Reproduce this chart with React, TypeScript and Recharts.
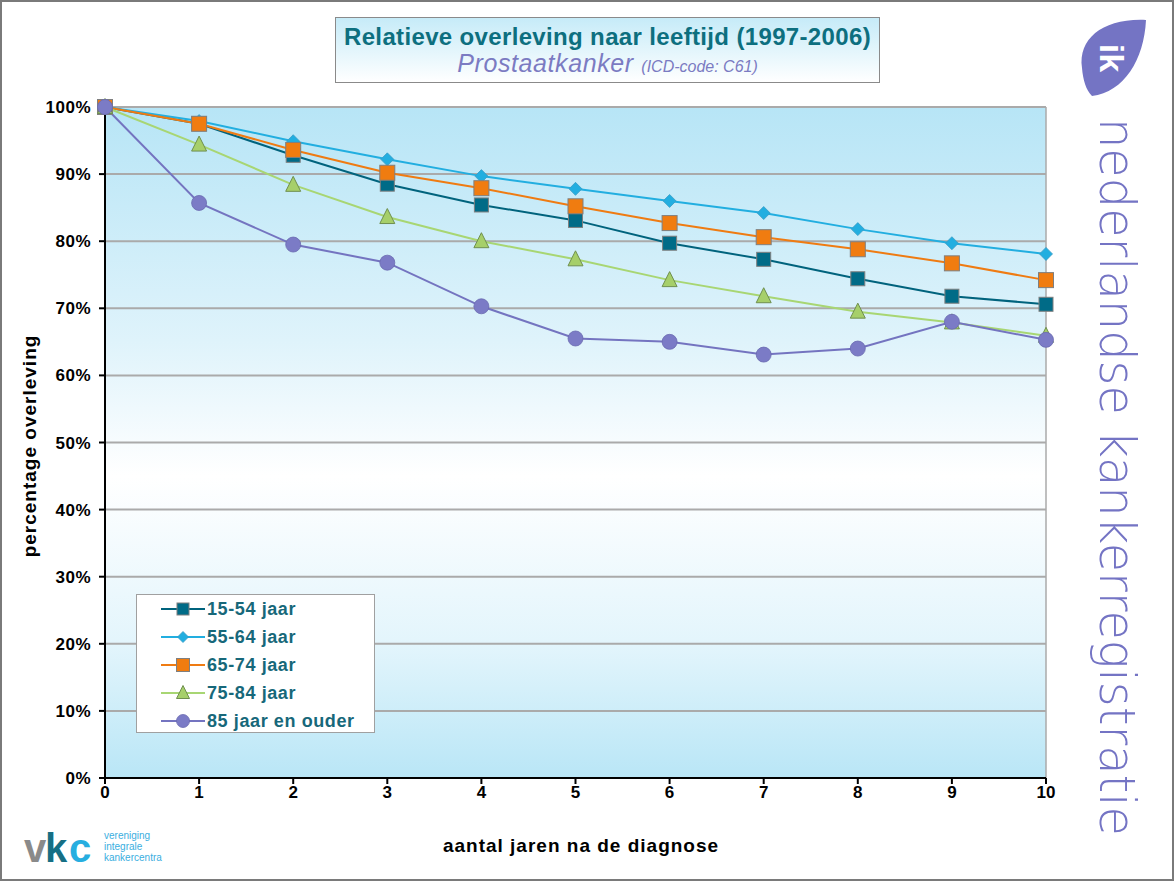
import React from 'react';
import {
  LineChart,
  Line,
  XAxis,
  YAxis,
  CartesianGrid,
  ReferenceLine,
} from 'recharts';

// jaren na diagnose
const years = [0, 1, 2, 3, 4, 5, 6, 7, 8, 9, 10];

// relatieve overleving (%) per leeftijdsgroep
const age15to54 = [100, 97.5, 92.8, 88.5, 85.4, 83.1, 79.7, 77.3, 74.4, 71.8, 70.6];
const age55to64 = [100, 97.9, 94.9, 92.2, 89.7, 87.8, 86.0, 84.2, 81.8, 79.7, 78.1];
const age65to74 = [100, 97.5, 93.6, 90.2, 87.9, 85.2, 82.7, 80.6, 78.8, 76.7, 74.2];
const age75to84 = [100, 94.4, 88.4, 83.6, 80.0, 77.3, 74.2, 71.8, 69.5, 67.9, 65.9];
const age85plus = [100, 85.7, 79.5, 76.8, 70.3, 65.5, 65.0, 63.1, 64.0, 68.0, 65.3];

const yTicks = [0, 10, 20, 30, 40, 50, 60, 70, 80, 90, 100];

const seriesNames = ['15-54 jaar', '55-64 jaar', '65-74 jaar', '75-84 jaar', '85 jaar en ouder'];

const data = years.map((y, i) => ({
  jaar: y,
  a: age15to54[i],
  b: age55to64[i],
  c: age65to74[i],
  d: age75to84[i],
  e: age85plus[i],
}));

const FONT = '"Liberation Sans", Arial, sans-serif';
const TEAL_TEXT = '#17687a';

type Shape = 'square' | 'diamond' | 'triangle' | 'circle';

const seriesStyle: { key: string; color: string; fill: string; shape: Shape; size: number }[] = [
  { key: 'a', color: '#00637d', fill: '#006b87', shape: 'square', size: 14 },
  { key: 'b', color: '#22aee0', fill: '#22aee0', shape: 'diamond', size: 13 },
  { key: 'c', color: '#ef7b12', fill: '#f07c10', shape: 'square', size: 15 },
  { key: 'd', color: '#a8d673', fill: '#a6cf6a', shape: 'triangle', size: 15 },
  { key: 'e', color: '#7474c0', fill: '#7b7bc6', shape: 'circle', size: 15 },
];

const marker = (shape: Shape, size: number, fill: string, cx: number, cy: number, key?: string) => {
  const h = size / 2;
  if (shape === 'square') {
    return <rect key={key} x={cx - h} y={cy - h} width={size} height={size} fill={fill} stroke="#7f7f7f" strokeWidth={1} />;
  }
  if (shape === 'diamond') {
    return (
      <polygon key={key} points={`${cx},${cy - h} ${cx + h},${cy} ${cx},${cy + h} ${cx - h},${cy}`} fill={fill} stroke="#3a9cc4" strokeWidth={0.8} />
    );
  }
  if (shape === 'triangle') {
    return (
      <polygon key={key} points={`${cx},${cy - h - 1} ${cx + h},${cy + h - 1} ${cx - h},${cy + h - 1}`} fill={fill} stroke="#6f8f4f" strokeWidth={1} />
    );
  }
  return <circle key={key} cx={cx} cy={cy} r={h} fill={fill} stroke="#6a6ab0" strokeWidth={0.8} />;
};

const makeDot = (shape: Shape, size: number, fill: string) => (props: any) => {
  const { cx, cy, index } = props;
  if (cx == null || cy == null) return <g key={`n${index}`} />;
  return marker(shape, size, fill, cx, cy, `m${index}`);
};

const LegendBox = () => (
  <div
    style={{
      position: 'absolute',
      left: 136,
      top: 594,
      width: 239,
      height: 139,
      background: '#ffffff',
      border: '1px solid #a0a0a0',
      boxSizing: 'border-box',
      paddingTop: 0,
    }}
  >
    {seriesStyle.map((s, i) => (
      <div key={s.key} style={{ display: 'flex', alignItems: 'center', height: 28 }}>
        <svg width={70} height={20} style={{ marginLeft: 22 }}>
          <line x1={2} y1={10} x2={46} y2={10} stroke={s.color} strokeWidth={2} />
          {marker(s.shape, s.size - 2, s.fill, 24, 10)}
        </svg>
        <span
          style={{
            marginLeft: -22,
            fontFamily: FONT,
            fontWeight: 'bold',
            fontSize: 18,
            letterSpacing: 0.6,
            color: TEAL_TEXT,
          }}
        >
          {seriesNames[i]}
        </span>
      </div>
    ))}
  </div>
);

const App = () => {
  return (
    <div
      style={{
        position: 'absolute',
        left: 0,
        top: 0,
        width: 1174,
        height: 881,
        background: '#ffffff',
        overflow: 'hidden',
        fontFamily: FONT,
      }}
    >
      {/* achtergrond plotgebied */}
      <div
        style={{
          position: 'absolute',
          left: 105,
          top: 107,
          width: 941,
          height: 671,
          background: 'linear-gradient(to bottom, #b7e5f6 0%, #dff3fb 35%, #ffffff 55%, #e3f5fc 80%, #b9e6f6 100%)',
        }}
      />

      <div style={{ position: 'absolute', left: 0, top: 0 }}>
        <LineChart
          width={1174}
          height={881}
          data={data}
          margin={{ top: 107, right: 128, bottom: 73, left: 0 }}
        >
          <CartesianGrid vertical={false} stroke="#aaaaaa" strokeWidth={2} />
          <ReferenceLine x={10} stroke="#aaaaaa" strokeWidth={1.5} />
          <XAxis
            dataKey="jaar"
            type="number"
            domain={[0, 10]}
            ticks={years}
            interval={0}
            height={30}
            axisLine={{ stroke: '#000', strokeWidth: 2 }}
            tickLine={{ stroke: '#000', strokeWidth: 2 }}
            tickSize={6}
            tick={{ fill: '#000', fontSize: 17, fontWeight: 'bold', fontFamily: FONT }}
          />
          <YAxis
            type="number"
            domain={[0, 100]}
            ticks={yTicks}
            interval={0}
            width={105}
            tickFormatter={(v) => `${v}%`}
            axisLine={{ stroke: '#000', strokeWidth: 2 }}
            tickLine={{ stroke: '#000', strokeWidth: 2 }}
            tickSize={6}
            tickMargin={8}
            tick={{ fill: '#000', fontSize: 17, fontWeight: 'bold', fontFamily: FONT, letterSpacing: 0.5 }}
          />
          {seriesStyle.map((s, i) => (
            <Line
              key={s.key}
              type="linear"
              dataKey={s.key}
              name={seriesNames[i]}
              stroke={s.color}
              strokeWidth={2}
              dot={makeDot(s.shape, s.size, s.fill)}
              activeDot={false}
              isAnimationActive={false}
            />
          ))}
        </LineChart>
      </div>

      <LegendBox />

      {/* titelblok */}
      <div
        style={{
          position: 'absolute',
          left: 335,
          top: 17,
          width: 545,
          height: 66,
          boxSizing: 'border-box',
          border: '1px solid #8a8a8a',
          background: 'linear-gradient(to bottom, #c6ebf8 0%, #ffffff 100%)',
          textAlign: 'center',
        }}
      >
        <div style={{ fontSize: 24, fontWeight: 'bold', color: '#0d6f7f', marginTop: 4, lineHeight: '29px', letterSpacing: 0.35 }}>
          Relatieve overleving naar leeftijd (1997-2006)
        </div>
        <div style={{ color: '#7b7bc2', fontStyle: 'italic', lineHeight: '24px' }}>
          <span style={{ fontSize: 25, letterSpacing: 0.6 }}>Prostaatkanker </span>
          <span style={{ fontSize: 16 }}>(ICD-code: C61)</span>
        </div>
      </div>

      {/* as-titels */}
      <div
        style={{
          position: 'absolute',
          left: 0,
          top: 835,
          width: 1162,
          textAlign: 'center',
          fontSize: 19,
          letterSpacing: 1,
          fontWeight: 'bold',
          color: '#000',
        }}
      >
        aantal jaren na de diagnose
      </div>
      <svg width={60} height={881} style={{ position: 'absolute', left: 0, top: 0 }}>
        <text
          x={36}
          y={446}
          transform="rotate(-90 36 446)"
          textAnchor="middle"
          fontFamily={FONT}
          fontWeight="bold"
          fontSize={19}
          letterSpacing={1}
          fill="#000"
        >
          percentage overleving
        </text>
      </svg>

      {/* logo nederlandse kankerregistratie */}
      <svg width={100} height={881} style={{ position: 'absolute', left: 1074, top: 0 }}>
        <path d="M8,68 C4,38 30,18 72,20 C70,60 50,92 18,96 C12,90 9,80 8,68 Z" fill="#7474c4" />
        <text
          x={26}
          y={58}
          transform="rotate(90 26 58)"
          textAnchor="middle"
          fontFamily={FONT}
          fontWeight="bold"
          fontSize={34}
          fill="#ffffff"
        >
          ik
        </text>
        <text
          x={26}
          y={118}
          transform="rotate(90 26 118)"
          fontFamily={'"DejaVu Sans", sans-serif'}
          fontWeight={200}
          fontSize={50}
          textLength={718}
          lengthAdjust="spacingAndGlyphs"
          fill="#7474c4"
        >
          nederlandse kankerregistratie
        </text>
      </svg>

      {/* logo vkc */}
      <svg width={200} height={60} style={{ position: 'absolute', left: 0, top: 818 }}>
        <text x={24} y={44} fontFamily={FONT} fontWeight="bold" fontSize={40} fill="#8a8a8a">v</text>
        <text x={45} y={44} fontFamily={FONT} fontWeight="bold" fontSize={40} fill="#166f85">k</text>
        <text x={69} y={44} fontFamily={FONT} fontWeight="bold" fontSize={40} fill="#27aee0">c</text>
        <text x={104} y={21} fontFamily={FONT} fontSize={10} fill="#3aaee0">vereniging</text>
        <text x={104} y={32} fontFamily={FONT} fontSize={10} fill="#3aaee0">integrale</text>
        <text x={104} y={43} fontFamily={FONT} fontSize={10} fill="#3aaee0">kankercentra</text>
      </svg>

      {/* kader */}
      <div
        style={{
          position: 'absolute',
          left: 0,
          top: 0,
          width: 1174,
          height: 881,
          boxSizing: 'border-box',
          border: '2px solid #7a7a7a',
          pointerEvents: 'none',
        }}
      />
    </div>
  );
};

export default App;
